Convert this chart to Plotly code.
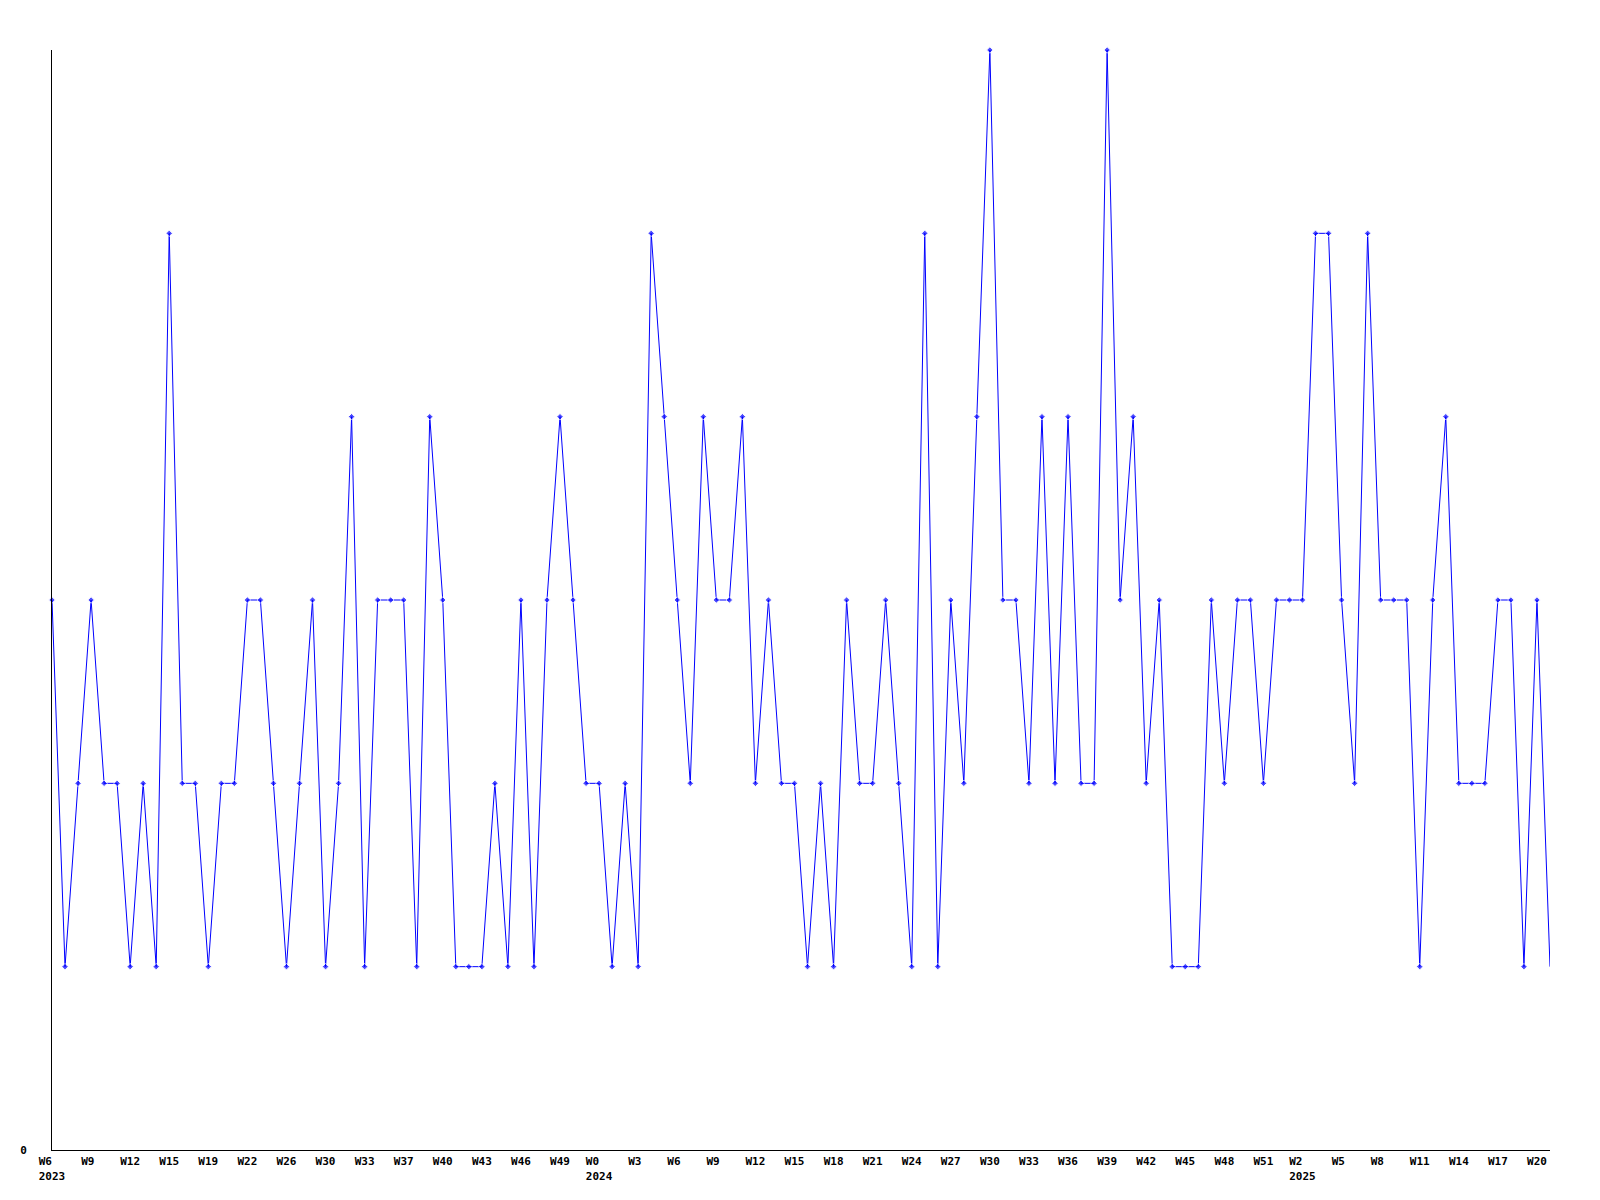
import plotly.graph_objects as go

values = [3, 1, 2, 3, 2, 2, 1, 2, 1, 5, 2, 2, 1, 2, 2, 3, 3, 2, 1, 2, 3, 1, 2, 4, 1, 3, 3, 3, 1, 4, 3,
          1, 1, 1, 2, 1, 3, 1, 3, 4, 3, 2, 2, 1, 2, 1, 5, 4, 3, 2, 4, 3, 3, 4, 2, 3, 2, 2, 1, 2, 1,
          3, 2, 2, 3, 2, 1, 5, 1, 3, 2, 4, 6, 3, 3, 2, 4, 2, 4, 2, 2, 6, 3, 4, 2, 3, 1, 1, 1, 3, 2, 3,
          3, 2, 3, 3, 3, 5, 5, 3, 2, 5, 3, 3, 3, 1, 3, 4, 2, 2, 2, 3, 3, 1, 3, 1]

week_labels = ["W6", "W9", "W12", "W15", "W19", "W22", "W26", "W30", "W33", "W37", "W40", "W43", "W46",
               "W49", "W0", "W3", "W6", "W9", "W12", "W15", "W18", "W21", "W24", "W27", "W30", "W33",
               "W36", "W39", "W42", "W45", "W48", "W51", "W2", "W5", "W8", "W11", "W14", "W17", "W20"]
year_labels = {0: "2023", 14: "2024", 32: "2025"}
label_step = 3

x = list(range(len(values)))
tickvals = [i * label_step for i in range(len(week_labels))]
NB = "\u00a0"
ticktext = []
for i, w in enumerate(week_labels):
    if i in year_labels:
        y = year_labels[i]
        ticktext.append(w + NB * (len(y) - len(w)) + "<br>" + y)
    else:
        ticktext.append(w + NB * max(0, 3 - len(w)))

sizes = [5] * (len(values) - 1) + [0]

fig = go.Figure()
fig.add_trace(go.Scatter(
    x=x, y=values, mode="lines+markers",
    line=dict(color="#0000ff", width=1),
    marker=dict(symbol="diamond", size=sizes, color="#0000ff"),
    cliponaxis=False, hoverinfo="skip", showlegend=False,
))

fig.update_layout(
    width=1600, height=1200,
    margin=dict(l=42, r=58, t=42, b=58),
    paper_bgcolor="white", plot_bgcolor="white",
    font=dict(family="DejaVu Sans Mono", size=11, color="black", weight="bold"),
)
fig.update_xaxes(
    range=[0, len(values) - 1], showgrid=False, zeroline=False,
    showline=True, linecolor="black", linewidth=1,
    tickmode="array", tickvals=tickvals, ticktext=ticktext,
    ticks="", tickangle=0, ticklabelstandoff=1,
    tickfont=dict(family="DejaVu Sans Mono", size=11, color="black", weight="bold"),
)
fig.update_yaxes(
    range=[0, 6], showgrid=False, zeroline=False,
    showline=True, linecolor="black", linewidth=1,
    tickmode="array", tickvals=[0], ticktext=["0"],
    ticks="", ticklabelstandoff=22,
    tickfont=dict(family="DejaVu Sans Mono", size=11, color="black", weight="bold"),
)

fig.write_html("out.html")
